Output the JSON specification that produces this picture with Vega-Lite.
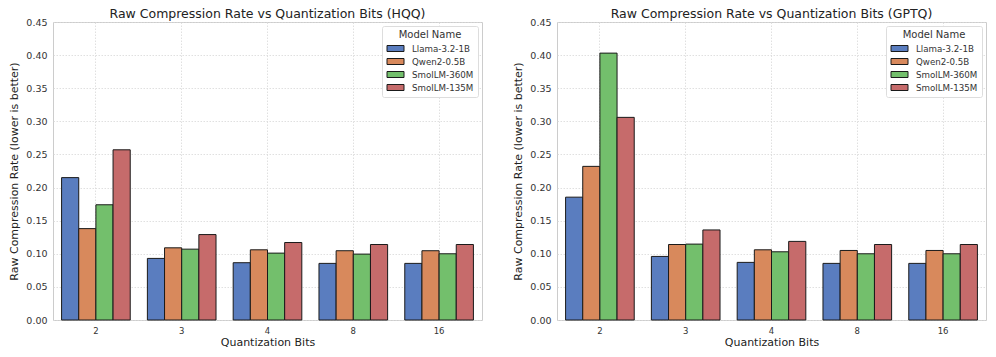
{
  "$schema": "https://vega.github.io/schema/vega-lite/v6.json",
  "padding": {"left": 8, "top": 7, "right": 10, "bottom": 4},
  "background": "white",
  "config": {
    "font": "DejaVu Sans",
    "view": {"stroke": "#cccccc", "strokeWidth": 1},
    "axis": {
      "labelFont": "DejaVu Sans", "titleFont": "DejaVu Sans",
      "labelFontSize": 9.5, "titleFontSize": 11, "titleFontWeight": "normal",
      "labelColor": "#333333", "titleColor": "#222222",
      "domain": false, "ticks": false, "labelPadding": 6,
      "gridColor": "#d8d8d8", "gridDash": [1.5, 1.5], "gridWidth": 0.8
    },
    "title": {"font": "DejaVu Sans", "fontSize": 12.5, "fontWeight": "normal", "color": "#222222", "offset": -3},
    "legend": {
      "titleFont": "DejaVu Sans", "labelFont": "DejaVu Sans",
      "titleFontSize": 10, "titleFontWeight": 400, "labelFontSize": 8.7,
      "titleColor": "#333333", "labelColor": "#333333",
      "symbolType": "M-1.7,-0.6H1.7V0.6H-1.7Z", "symbolSize": 100, "symbolStrokeWidth": 1,
      "symbolOffset": 4,
      "strokeColor": "#dddddd", "fillColor": "white", "padding": 4, "cornerRadius": 2,
      "titleAnchor": "middle", "rowPadding": 2, "titlePadding": 3, "labelOffset": 11
    },
    "concat": {"spacing": 29}
  },
  "datasets": {
    "hqq": [
      {"bits": "2", "model": "Llama-3.2-1B", "rate": 0.215},
      {"bits": "2", "model": "Qwen2-0.5B", "rate": 0.138},
      {"bits": "2", "model": "SmolLM-360M", "rate": 0.174},
      {"bits": "2", "model": "SmolLM-135M", "rate": 0.257},
      {"bits": "3", "model": "Llama-3.2-1B", "rate": 0.093},
      {"bits": "3", "model": "Qwen2-0.5B", "rate": 0.109},
      {"bits": "3", "model": "SmolLM-360M", "rate": 0.107},
      {"bits": "3", "model": "SmolLM-135M", "rate": 0.129},
      {"bits": "4", "model": "Llama-3.2-1B", "rate": 0.0865},
      {"bits": "4", "model": "Qwen2-0.5B", "rate": 0.106},
      {"bits": "4", "model": "SmolLM-360M", "rate": 0.101},
      {"bits": "4", "model": "SmolLM-135M", "rate": 0.117},
      {"bits": "8", "model": "Llama-3.2-1B", "rate": 0.0855},
      {"bits": "8", "model": "Qwen2-0.5B", "rate": 0.1046},
      {"bits": "8", "model": "SmolLM-360M", "rate": 0.0995},
      {"bits": "8", "model": "SmolLM-135M", "rate": 0.114},
      {"bits": "16", "model": "Llama-3.2-1B", "rate": 0.0855},
      {"bits": "16", "model": "Qwen2-0.5B", "rate": 0.1046},
      {"bits": "16", "model": "SmolLM-360M", "rate": 0.100},
      {"bits": "16", "model": "SmolLM-135M", "rate": 0.114}
    ],
    "gptq": [
      {"bits": "2", "model": "Llama-3.2-1B", "rate": 0.1855},
      {"bits": "2", "model": "Qwen2-0.5B", "rate": 0.232},
      {"bits": "2", "model": "SmolLM-360M", "rate": 0.403},
      {"bits": "2", "model": "SmolLM-135M", "rate": 0.306},
      {"bits": "3", "model": "Llama-3.2-1B", "rate": 0.096},
      {"bits": "3", "model": "Qwen2-0.5B", "rate": 0.114},
      {"bits": "3", "model": "SmolLM-360M", "rate": 0.1146},
      {"bits": "3", "model": "SmolLM-135M", "rate": 0.136},
      {"bits": "4", "model": "Llama-3.2-1B", "rate": 0.087},
      {"bits": "4", "model": "Qwen2-0.5B", "rate": 0.106},
      {"bits": "4", "model": "SmolLM-360M", "rate": 0.103},
      {"bits": "4", "model": "SmolLM-135M", "rate": 0.1187},
      {"bits": "8", "model": "Llama-3.2-1B", "rate": 0.0855},
      {"bits": "8", "model": "Qwen2-0.5B", "rate": 0.105},
      {"bits": "8", "model": "SmolLM-360M", "rate": 0.100},
      {"bits": "8", "model": "SmolLM-135M", "rate": 0.114},
      {"bits": "16", "model": "Llama-3.2-1B", "rate": 0.0855},
      {"bits": "16", "model": "Qwen2-0.5B", "rate": 0.105},
      {"bits": "16", "model": "SmolLM-360M", "rate": 0.100},
      {"bits": "16", "model": "SmolLM-135M", "rate": 0.114}
    ]
  },
  "hconcat": [
    {
      "title": "Raw Compression Rate vs Quantization Bits (HQQ)",
      "data": {"name": "hqq"},
      "width": 429, "height": 298,
      "mark": {"type": "bar", "stroke": "#1a1a1a", "strokeWidth": 1},
      "encoding": {
        "x": {"field": "bits", "type": "nominal", "sort": ["2", "3", "4", "8", "16"],
              "title": "Quantization Bits",
              "scale": {"paddingInner": 0.2, "paddingOuter": 0.1},
              "axis": {"labelAngle": 0, "grid": true, "bandPosition": 0.5, "labelFontSize": 8.5, "titlePadding": 2}},
        "xOffset": {"field": "model", "sort": ["Llama-3.2-1B", "Qwen2-0.5B", "SmolLM-360M", "SmolLM-135M"]},
        "y": {"field": "rate", "type": "quantitative", "title": "Raw Compression Rate (lower is better)",
              "scale": {"domain": [0, 0.45], "nice": false},
              "axis": {"values": [0, 0.05, 0.1, 0.15, 0.2, 0.25, 0.3, 0.35, 0.4, 0.45], "format": ".2f", "titlePadding": 6}},
        "fill": {"field": "model", "type": "nominal", "title": "Model Name",
                 "sort": ["Llama-3.2-1B", "Qwen2-0.5B", "SmolLM-360M", "SmolLM-135M"],
                 "scale": {"domain": ["Llama-3.2-1B", "Qwen2-0.5B", "SmolLM-360M", "SmolLM-135M"],
                           "range": ["#5a7dbf", "#d8895c", "#73bf6c", "#c66b6b"]},
                 "legend": {"orient": "top-right", "offset": 4, "titleFontWeight": 400, "symbolStrokeColor": "#1a1a1a"}}
      }
    },
    {
      "title": "Raw Compression Rate vs Quantization Bits (GPTQ)",
      "data": {"name": "gptq"},
      "width": 429, "height": 298,
      "mark": {"type": "bar", "stroke": "#1a1a1a", "strokeWidth": 1},
      "encoding": {
        "x": {"field": "bits", "type": "nominal", "sort": ["2", "3", "4", "8", "16"],
              "title": "Quantization Bits",
              "scale": {"paddingInner": 0.2, "paddingOuter": 0.1},
              "axis": {"labelAngle": 0, "grid": true, "bandPosition": 0.5, "labelFontSize": 8.5, "titlePadding": 2}},
        "xOffset": {"field": "model", "sort": ["Llama-3.2-1B", "Qwen2-0.5B", "SmolLM-360M", "SmolLM-135M"]},
        "y": {"field": "rate", "type": "quantitative", "title": "Raw Compression Rate (lower is better)",
              "scale": {"domain": [0, 0.45], "nice": false},
              "axis": {"values": [0, 0.05, 0.1, 0.15, 0.2, 0.25, 0.3, 0.35, 0.4, 0.45], "format": ".2f", "titlePadding": 6}},
        "fill": {"field": "model", "type": "nominal", "title": "Model Name",
                 "sort": ["Llama-3.2-1B", "Qwen2-0.5B", "SmolLM-360M", "SmolLM-135M"],
                 "scale": {"domain": ["Llama-3.2-1B", "Qwen2-0.5B", "SmolLM-360M", "SmolLM-135M"],
                           "range": ["#5a7dbf", "#d8895c", "#73bf6c", "#c66b6b"]},
                 "legend": {"orient": "top-right", "offset": 4, "titleFontWeight": 400, "symbolStrokeColor": "#1a1a1a"}}
      }
    }
  ],
  "resolve": {"scale": {"fill": "independent"}, "legend": {"fill": "independent"}}
}
